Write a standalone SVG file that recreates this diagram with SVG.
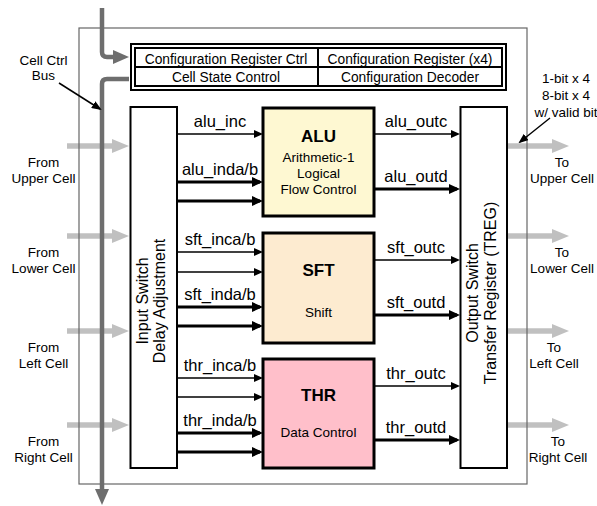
<svg xmlns="http://www.w3.org/2000/svg" width="597" height="506" viewBox="0 0 597 506">
<defs>
<style>
text{font-family:"Liberation Sans",Arial,Helvetica,sans-serif;fill:#000}
.lbl{font-size:13.5px;text-anchor:middle}
.sig{font-size:16.5px;text-anchor:middle}
.cfg{font-size:13.8px;text-anchor:middle}
.sw{font-size:16px;text-anchor:middle}
.title{font-size:17px;font-weight:bold;text-anchor:middle}
.sub{font-size:13.5px;text-anchor:middle}
.thin{stroke:#000;stroke-width:1.5;fill:none;marker-end:url(#aThin)}
.thick{stroke:#000;stroke-width:3;fill:none;marker-end:url(#aThick)}
.call{stroke:#000;stroke-width:1.5;fill:none;marker-end:url(#aCall)}
.io{stroke:#c0c0c0;stroke-width:5.5;fill:none;marker-end:url(#aGray)}
.bus{stroke:#6e6e6e;stroke-width:4.5;fill:none;marker-end:url(#aBus)}
.fu{stroke:#000;stroke-width:3}
.sbox{fill:#fff;stroke:#000;stroke-width:2}
.cfgbox{fill:#fff;stroke:#000;stroke-width:2}
</style>
<marker id="aThin" viewBox="0 0 9 8" refX="7" refY="4" markerWidth="9" markerHeight="8" markerUnits="userSpaceOnUse" orient="auto"><path d="M0,0 L9,4 L0,8 z" fill="#000"/></marker>
<marker id="aThick" viewBox="0 0 11 10" refX="8" refY="5" markerWidth="11" markerHeight="10" markerUnits="userSpaceOnUse" orient="auto"><path d="M0,0 L11,5 L0,10 z" fill="#000"/></marker>
<marker id="aCall" viewBox="0 0 10 8" refX="8" refY="4" markerWidth="10" markerHeight="8" markerUnits="userSpaceOnUse" orient="auto"><path d="M0,0 L10,4 L0,8 z" fill="#000"/></marker>
<marker id="aGray" viewBox="0 0 17 14" refX="7" refY="7" markerWidth="17" markerHeight="14" markerUnits="userSpaceOnUse" orient="auto"><path d="M0,0 L17,7 L0,14 z" fill="#c0c0c0"/></marker>
<marker id="aBus" viewBox="0 0 16 14" refX="4" refY="7" markerWidth="16" markerHeight="14" markerUnits="userSpaceOnUse" orient="auto"><path d="M0,0 L16,7 L0,14 z" fill="#6e6e6e"/></marker>
</defs>

<g id="io-arrows">
<line class="io" x1="67" y1="146" x2="119" y2="146"/>
<line class="io" x1="67" y1="236" x2="119" y2="236"/>
<line class="io" x1="67" y1="331" x2="119" y2="331"/>
<line class="io" x1="67" y1="425" x2="119" y2="425"/>
<line class="io" x1="507" y1="146" x2="559" y2="146"/>
<line class="io" x1="507" y1="236" x2="559" y2="236"/>
<line class="io" x1="507" y1="331" x2="559" y2="331"/>
<line class="io" x1="507" y1="425" x2="559" y2="425"/>
</g>

<g id="cell-frame">
<rect x="79" y="28" width="448" height="456" fill="none" stroke="#666" stroke-width="1.2"/>
</g>

<g id="cell-ctrl-bus">
<path class="bus" d="M102,8 V52 Q102,57 107,57 H117"/>
<path class="bus" d="M129,79 H107 Q102,79 102,84 V493"/>
</g>

<g id="connectors">
<line class="thin" x1="177" y1="134" x2="261" y2="134"/>
<line class="thick" x1="177" y1="182" x2="260" y2="182"/>
<line class="thick" x1="177" y1="201" x2="260" y2="201"/>
<line class="thin" x1="177" y1="252" x2="261" y2="252"/>
<line class="thin" x1="177" y1="272" x2="261" y2="272"/>
<line class="thick" x1="177" y1="307" x2="260" y2="307"/>
<line class="thick" x1="177" y1="326" x2="260" y2="326"/>
<line class="thin" x1="177" y1="378" x2="261" y2="378"/>
<line class="thin" x1="177" y1="397" x2="261" y2="397"/>
<line class="thick" x1="177" y1="433" x2="260" y2="433"/>
<line class="thick" x1="177" y1="452" x2="260" y2="452"/>
<line class="thin" x1="374" y1="134" x2="458" y2="134"/>
<line class="thick" x1="374" y1="189" x2="457" y2="189"/>
<line class="thin" x1="374" y1="260" x2="458" y2="260"/>
<line class="thick" x1="374" y1="315" x2="457" y2="315"/>
<line class="thin" x1="374" y1="386" x2="458" y2="386"/>
<line class="thick" x1="374" y1="440" x2="457" y2="440"/>
<line class="call" x1="59" y1="83" x2="100" y2="109"/>
<line class="call" x1="550" y1="118" x2="520" y2="142"/>
<text class="sig" x="220" y="127">alu_inc</text>
<text class="sig" x="220" y="175">alu_inda/b</text>
<text class="sig" x="220" y="245">sft_inca/b</text>
<text class="sig" x="220" y="300">sft_inda/b</text>
<text class="sig" x="220" y="371">thr_inca/b</text>
<text class="sig" x="220" y="426">thr_inda/b</text>
<text class="sig" x="416" y="127">alu_outc</text>
<text class="sig" x="416" y="182">alu_outd</text>
<text class="sig" x="416" y="253">sft_outc</text>
<text class="sig" x="416" y="308">sft_outd</text>
<text class="sig" x="416" y="379">thr_outc</text>
<text class="sig" x="416" y="433">thr_outd</text>
</g>

<g id="config-block">
<rect class="cfgbox" x="131" y="44" width="375" height="46"/>
<rect class="cfgbox" x="135" y="48" width="367" height="38"/>
<line x1="135" y1="67" x2="502" y2="67" stroke="#000" stroke-width="2"/>
<line x1="318" y1="48" x2="318" y2="86" stroke="#000" stroke-width="2"/>
<text class="cfg" x="226" y="64">Configuration Register Ctrl</text>
<text class="cfg" x="410" y="64">Configuration Register (x4)</text>
<text class="cfg" x="226" y="82">Cell State Control</text>
<text class="cfg" x="410" y="82">Configuration Decoder</text>
</g>

<g id="input-switch">
<rect class="sbox" x="130.5" y="107" width="46.5" height="361"/>
<text class="sw" transform="translate(148,301) rotate(-90)">Input Switch</text>
<text class="sw" transform="translate(165,301) rotate(-90)">Delay Adjustment</text>
</g>

<g id="output-switch">
<rect class="sbox" x="460.5" y="107" width="46.5" height="361"/>
<text class="sw" transform="translate(478,293) rotate(-90)">Output Switch</text>
<text class="sw" transform="translate(496,293) rotate(-90)">Transfer Register (TREG)</text>
</g>

<g id="alu">
<rect class="fu" x="263" y="108" width="111" height="108" fill="#fef8d2"/>
<text class="title" x="318.5" y="142">ALU</text>
<text class="sub" x="318.5" y="162">Arithmetic-1</text>
<text class="sub" x="318.5" y="178">Logical</text>
<text class="sub" x="318.5" y="194">Flow Control</text>
</g>

<g id="sft">
<rect class="fu" x="263" y="233" width="111" height="110" fill="#fdebd0"/>
<text class="title" x="318.5" y="276">SFT</text>
<text class="sub" x="318.5" y="317">Shift</text>
</g>

<g id="thr">
<rect class="fu" x="263" y="359" width="111" height="109" fill="#ffbfca"/>
<text class="title" x="318.5" y="401">THR</text>
<text class="sub" x="318.5" y="437">Data Control</text>
</g>

<g id="labels-left">
<text class="lbl" x="43.5" y="65">Cell Ctrl</text>
<text class="lbl" x="43.5" y="80">Bus</text>
<text class="lbl" x="43.5" y="167">From</text>
<text class="lbl" x="43.5" y="183">Upper Cell</text>
<text class="lbl" x="43.5" y="257">From</text>
<text class="lbl" x="43.5" y="273">Lower Cell</text>
<text class="lbl" x="43.5" y="352">From</text>
<text class="lbl" x="43.5" y="368">Left Cell</text>
<text class="lbl" x="43.5" y="446">From</text>
<text class="lbl" x="43.5" y="462">Right Cell</text>
</g>

<g id="labels-right">
<text class="lbl" x="566" y="83">1-bit x 4</text>
<text class="lbl" x="566" y="100">8-bit x 4</text>
<text class="lbl" x="566" y="117">w/ valid bit</text>
<text class="lbl" x="562" y="167">To</text>
<text class="lbl" x="562" y="183">Upper Cell</text>
<text class="lbl" x="562" y="257">To</text>
<text class="lbl" x="562" y="273">Lower Cell</text>
<text class="lbl" x="554" y="352">To</text>
<text class="lbl" x="554" y="368">Left Cell</text>
<text class="lbl" x="558" y="446">To</text>
<text class="lbl" x="558" y="462">Right Cell</text>
</g>
</svg>
